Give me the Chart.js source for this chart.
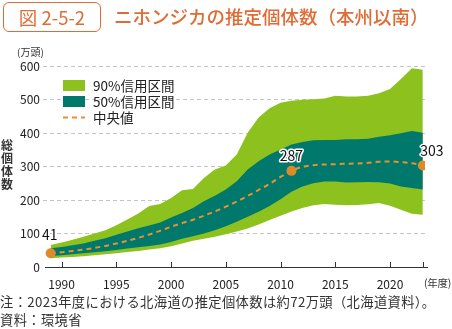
<!DOCTYPE html>
<html lang="ja">
<head>
<meta charset="utf-8">
<script src="https://cdn.jsdelivr.net/npm/chart.js@4.4.0/dist/chart.umd.min.js"></script>
<style>
  html, body { margin: 0; padding: 0; background: #fff; }
  body { width: 452px; height: 329px; position: relative; overflow: hidden;
         font-family: "Noto Sans CJK JP", "Noto Sans", sans-serif; color: #222; }
  #chart { position: absolute; left: 0; top: 0; }
  .fig-no { position: absolute; left: 3px; top: 2px; width: 96px; height: 28px;
            border: 1.5px solid #e06c35; border-radius: 6px; color: #e06c35;
            font-size: 18.5px; line-height: 28px; text-align: center; }
  .title { position: absolute; left: 114px; top: 3px; color: #e06c35;
           font-size: 18.5px; line-height: 26px; font-weight: 500; white-space: nowrap; }
  .unit { position: absolute; left: 17px; top: 44px; font-size: 10px; color: #333; white-space: nowrap; }
  .ylab { position: absolute; left: 1px; top: 138px; width: 13px; font-size: 12px;
          line-height: 13px; font-weight: 700; color: #333; }
  .xunit { position: absolute; left: 424px; top: 275px; font-size: 10.5px; letter-spacing: -0.3px; color: #333; white-space: nowrap; }
  .note { position: absolute; left: 0; font-size: 13.3px; letter-spacing: 0.35px; color: #333; white-space: nowrap; }
</style>
</head>
<body>
<canvas id="chart" width="452" height="329"></canvas>
<div class="fig-no">図 2-5-2</div>
<div class="title">ニホンジカの推定個体数（本州以南）</div>
<div class="unit">(万頭)</div>
<div class="ylab">総個体数</div>
<div class="xunit">(年度)</div>
<div class="note" style="top:292px">注：2023年度における北海道の推定個体数は約72万頭（北海道資料）。</div>
<div class="note" style="top:310px">資料：環境省</div>
<script>
// 年度
const years = [1989, 1990, 1991, 1992, 1993, 1994, 1995, 1996, 1997, 1998, 1999,
               2000, 2001, 2002, 2003, 2004, 2005, 2006, 2007, 2008, 2009,
               2010, 2011, 2012, 2013, 2014, 2015, 2016, 2017, 2018, 2019,
               2020, 2021, 2022, 2023];
// 中央値（万頭）
const median = [41, 44, 48, 52, 57, 63, 70, 78, 87, 97, 108,
                120, 131, 141, 153, 166, 180, 195, 212, 230, 248,
                269, 287, 299, 304, 306, 307, 308, 309, 311, 314,
                315, 313, 310, 303];
// 50%信用区間
const ci50Upper = [56, 60, 65, 70, 78, 86, 96, 106, 116, 124, 133,
                   148, 161, 176, 196, 213, 231, 256, 291, 316, 336,
                   351, 366, 373, 378, 379, 379, 381, 381, 383, 389,
                   393, 399, 406, 401];
const ci50Lower = [33, 35, 38, 41, 44, 47, 51, 55, 59, 63, 67,
                   75, 84, 92, 100, 110, 122, 135, 150, 165, 182,
                   202, 225, 240, 250, 255, 255, 252, 253, 254, 253,
                   249, 240, 236, 231];
// 90%信用区間
const ci90Upper = [66, 73, 81, 90, 100, 110, 125, 142, 160, 182, 188,
                   206, 229, 233, 266, 291, 303, 336, 401, 446, 474,
                   490, 496, 499, 501, 503, 511, 509, 509, 511, 519,
                   531, 561, 593, 589];
const ci90Lower = [26, 28, 30, 32, 35, 38, 41, 45, 48, 52, 56,
                   62, 70, 78, 84, 90, 98, 106, 115, 127, 140,
                   153, 166, 176, 184, 188, 186, 184, 185, 187, 191,
                   183, 171, 159, 156];
// 値を表示する年度
const markedYears = [1989, 2011, 2023];
const xTickYears = [1990, 1995, 2000, 2005, 2010, 2015, 2020];
const yTicks = [0, 100, 200, 300, 400, 500, 600];

const GREEN = '#8cc11e';
const TEAL = '#00796c';
const ORANGE = '#e8912d';
const DOT = '#dc8a2a';
const FONT = '"Noto Sans CJK JP", "Noto Sans", sans-serif';

const pts = arr => arr.map((v, i) => ({x: years[i], y: v}));
const isMarked = ctx => markedYears.includes(years[ctx.dataIndex]);

// 目盛り線(上向き)・凡例・数値ラベル
const extras = {
  id: 'extras',
  afterDatasetsDraw(chart) {
    const {ctx, chartArea, scales: {x, y}} = chart;
    ctx.save();
    ctx.strokeStyle = '#333';
    ctx.lineWidth = 1;
    ctx.beginPath();
    ctx.moveTo(chartArea.left + 2, chartArea.bottom + 0.5);
    ctx.lineTo(chartArea.right + 3, chartArea.bottom + 0.5);
    [...xTickYears, 2023].forEach(yr => {
      const px = Math.round(x.getPixelForValue(yr)) + 0.5;
      ctx.moveTo(px, chartArea.bottom);
      ctx.lineTo(px, chartArea.bottom - 5);
    });
    ctx.stroke();

    // 凡例
    const lx = 63, tx = 93;
    ctx.font = '13.5px ' + FONT;
    ctx.textBaseline = 'middle';
    ctx.fillStyle = GREEN;
    ctx.fillRect(lx, 80, 22, 11);
    ctx.fillStyle = TEAL;
    ctx.fillRect(lx, 96, 22, 11);
    ctx.strokeStyle = ORANGE;
    ctx.lineWidth = 2;
    ctx.setLineDash([5, 4]);
    ctx.beginPath();
    ctx.moveTo(lx, 117.5);
    ctx.lineTo(lx + 22, 117.5);
    ctx.stroke();
    ctx.setLineDash([]);
    ctx.fillStyle = '#222';
    ctx.fillText('90%信用区間', tx, 86);
    ctx.fillText('50%信用区間', tx, 102);
    ctx.fillText('中央値', tx, 118);

    // 数値ラベル
    const offsets = {1989: [-1, -19], 2011: [0, -15], 2023: [9, -15]};
    ctx.font = '14px ' + FONT;
    ctx.textAlign = 'center';
    ctx.lineJoin = 'round';
    markedYears.forEach(yr => {
      const v = median[years.indexOf(yr)];
      const px = x.getPixelForValue(yr) + offsets[yr][0];
      const py = y.getPixelForValue(v) + offsets[yr][1];
      ctx.strokeStyle = '#fff';
      ctx.lineWidth = 3;
      ctx.strokeText(String(v), px, py);
      ctx.fillStyle = '#111';
      ctx.fillText(String(v), px, py);
    });
    ctx.restore();
  }
};

new Chart(document.getElementById('chart'), {
  type: 'line',
  data: {
    datasets: [
      {
        label: '中央値',
        data: pts(median),
        borderColor: ORANGE,
        borderWidth: 2,
        borderDash: [5, 4],
        tension: 0.3,
        cubicInterpolationMode: 'monotone',
        pointRadius: ctx => isMarked(ctx) ? 5 : 0,
        pointBackgroundColor: DOT,
        pointBorderWidth: 0,
        fill: false,
      },
      {
        label: '50%信用区間',
        data: pts(ci50Upper),
        borderWidth: 0,
        pointRadius: 0,
        backgroundColor: TEAL,
        fill: '+1',
      },
      {
        data: pts(ci50Lower),
        borderWidth: 0,
        pointRadius: 0,
        fill: false,
      },
      {
        label: '90%信用区間',
        data: pts(ci90Upper),
        borderWidth: 0,
        pointRadius: 0,
        backgroundColor: GREEN,
        fill: '+1',
      },
      {
        data: pts(ci90Lower),
        borderWidth: 0,
        pointRadius: 0,
        fill: false,
      },
    ],
  },
  options: {
    responsive: false,
    animation: false,
    events: [],
    layout: {padding: {left: 0, top: 66, right: 27, bottom: 0}},
    plugins: {legend: {display: false}, tooltip: {enabled: false}},
    scales: {
      x: {
        type: 'linear',
        min: 1988.3,
        max: 2023.2,
        grid: {display: false, drawTicks: false},
        border: {display: false},
        afterBuildTicks: s => { s.ticks = xTickYears.map(v => ({value: v})); },
        afterFit: s => { s.height = 62; },
        ticks: {
          padding: 10,
          color: '#222',
          font: {family: FONT, size: 12},
          maxRotation: 0,
          callback: v => String(v),
        },
      },
      y: {
        min: 0,
        max: 600,
        afterBuildTicks: s => { s.ticks = yTicks.map(v => ({value: v})); },
        afterFit: s => { s.width = 43; },
        grid: {
          color: ctx => ctx.tick && ctx.tick.value === 0 ? 'rgba(0,0,0,0)' : '#c4c4c4',
          lineWidth: 1,
          drawTicks: false,
        },
        border: {display: false, dash: [4, 3]},
        ticks: {
          padding: 3,
          color: '#222',
          font: {family: FONT, size: 12},
        },
      },
    },
  },
  plugins: [extras],
});
</script>
</body>
</html>
